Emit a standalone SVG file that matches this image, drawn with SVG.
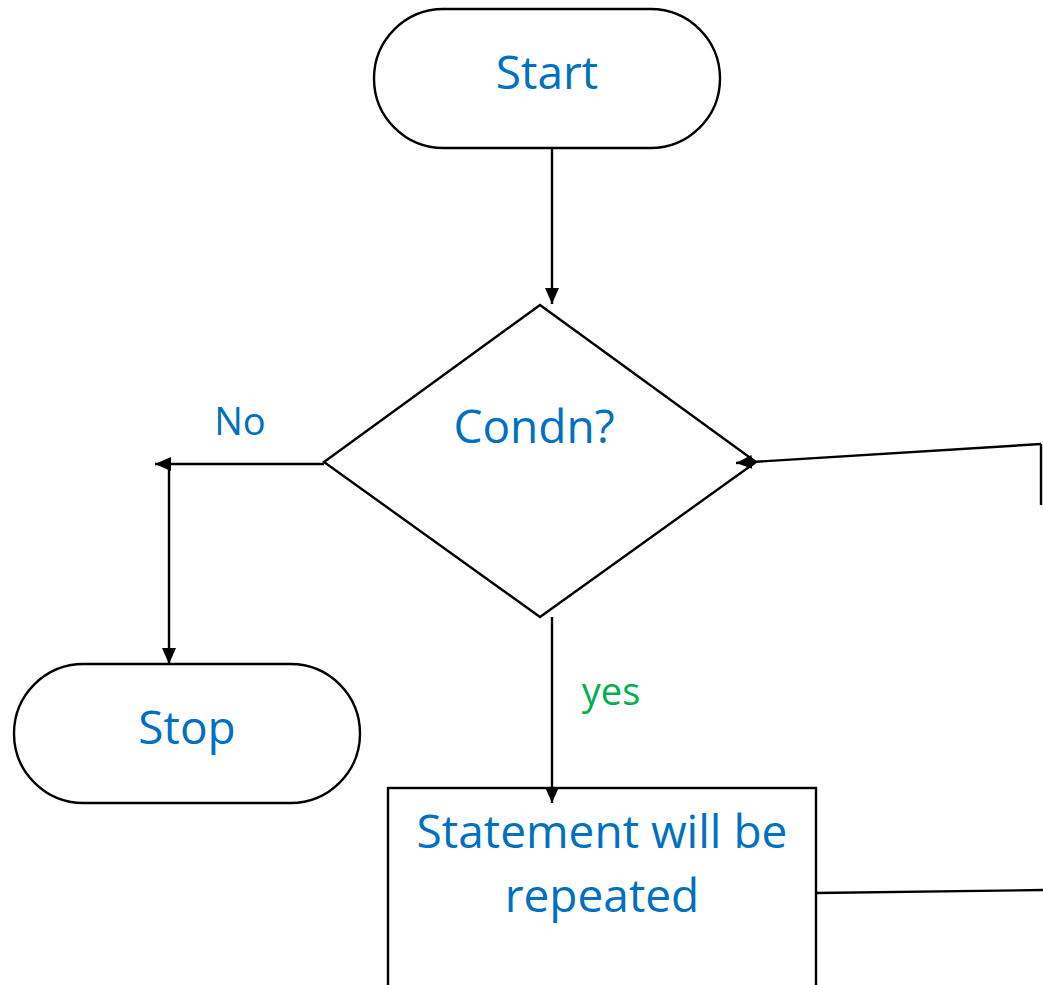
<svg xmlns="http://www.w3.org/2000/svg" width="1043" height="985" viewBox="0 0 1043 985">
<style>
.shape{fill:#fff;stroke:#000;stroke-width:2.4}
.edge{fill:none;stroke:#000;stroke-width:2.4}
.lbl{font-family:"Open Sans","Liberation Sans",sans-serif;fill:#0070c0;text-anchor:middle}
.big{font-size:46px}
.small{font-size:38px}
</style>
<defs>
<marker id="arr" viewBox="0 0 16 14" refX="16" refY="7" markerWidth="16" markerHeight="14" markerUnits="userSpaceOnUse" orient="auto">
<path d="M0,0 L16,7 L0,14 Z" fill="#000"/>
</marker>
</defs>
<rect width="1043" height="985" fill="#fff"/>
<g id="start">
<rect class="shape" x="374" y="9" width="346" height="139" rx="69.5"/>
<text class="lbl big" x="547" y="89">Start</text>
</g>
<g id="condn">
<polygon class="shape" points="540,305 756,462 540,617 324,462"/>
<text class="lbl big" x="534" y="443">Condn?</text>
</g>
<g id="stop">
<rect class="shape" x="14" y="664" width="346" height="139" rx="69.5"/>
<text class="lbl big" x="187" y="744">Stop</text>
</g>
<g id="statement">
<rect class="shape" x="388" y="788" width="428" height="220"/>
<text class="lbl big" x="602" y="848">Statement will be</text>
<text class="lbl big" x="602" y="912">repeated</text>
</g>
<g id="labels">
<text class="lbl small" x="240" y="435">No</text>
<text class="lbl small" x="611" y="705" style="fill:#00b050">yes</text>
</g>
<g id="connectors">
<line class="edge" x1="552" y1="148" x2="552" y2="304" marker-end="url(#arr)"/>
<line class="edge" x1="324" y1="464" x2="155" y2="464" marker-end="url(#arr)"/>
<line class="edge" x1="169" y1="464" x2="169" y2="664" marker-end="url(#arr)"/>
<line class="edge" x1="552" y1="617" x2="552" y2="803" marker-end="url(#arr)"/>
<line class="edge" x1="816" y1="893" x2="1043" y2="890"/>
<line class="edge" x1="1041" y1="444" x2="1041" y2="505"/>
<line class="edge" x1="1041" y1="444" x2="736" y2="463" marker-end="url(#arr)"/>
</g>
</svg>
